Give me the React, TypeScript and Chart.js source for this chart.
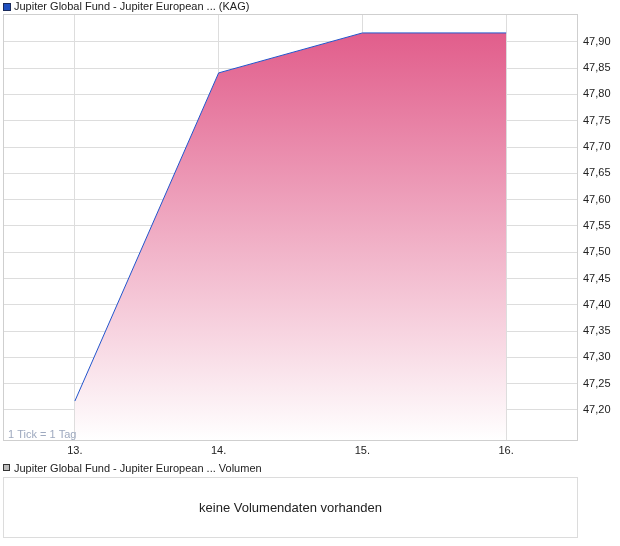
import React, { useEffect, useRef } from "react";
import { Chart, registerables } from "chart.js";

Chart.register(...registerables);

const categories = [13, 14, 15, 16];
const prices = [47.217, 47.841, 47.917, 47.917];
const yTicks = [47.2, 47.25, 47.3, 47.35, 47.4, 47.45, 47.5, 47.55, 47.6, 47.65, 47.7, 47.75, 47.8, 47.85, 47.9];
const seriesLabel = "Jupiter Global Fund - Jupiter European ... (KAG)";
const volumeLabel = "Jupiter Global Fund - Jupiter European ... Volumen";
const noVolumeText = "keine Volumendaten vorhanden";
const tickNote = "1 Tick = 1 Tag";

const FONT = "'Liberation Sans', Arial, sans-serif";

export default function App() {
  const ref = useRef<HTMLCanvasElement | null>(null);

  useEffect(() => {
    if (!ref.current) return;
    const overlay = {
      id: "overlay",
      beforeDatasetsDraw() {},
      afterDraw(chart: any) {
        const { ctx, chartArea } = chart;
        ctx.save();
        // plot border
        ctx.strokeStyle = "#cfcfcf";
        ctx.lineWidth = 1;
        ctx.strokeRect(
          Math.round(chartArea.left) + 0.5,
          Math.round(chartArea.top) + 0.5,
          Math.round(chartArea.right - chartArea.left) - 1,
          Math.round(chartArea.bottom - chartArea.top) - 1
        );
        // legend
        ctx.fillStyle = "#1f4fbf";
        ctx.fillRect(3, 3, 7, 7);
        ctx.strokeStyle = "#1a2a5a";
        ctx.strokeRect(3.5, 3.5, 7, 7);
        ctx.fillStyle = "#222";
        ctx.font = `11px ${FONT}`;
        ctx.textBaseline = "middle";
        ctx.textAlign = "left";
        ctx.fillText(seriesLabel, 14, 7);
        // tick note
        ctx.fillStyle = "#9ea9bf";
        ctx.fillText(tickNote, 8, chartArea.bottom - 6);
        ctx.restore();
      },
    };

    const chart = new Chart(ref.current, {
      type: "line",
      data: {
        datasets: [
          {
            label: seriesLabel,
            data: categories.map((c, i) => ({ x: c, y: prices[i] })),
            borderColor: "#2255cc",
            borderWidth: 1,
            pointRadius: 0,
            tension: 0,
            fill: "start",
            backgroundColor: (c: any) => {
              const ca = c.chart.chartArea;
              if (!ca) return "rgba(224,88,136,0.8)";
              const g = c.chart.ctx.createLinearGradient(0, ca.top, 0, ca.bottom);
              g.addColorStop(0, "rgb(224,86,134)");
              g.addColorStop(1, "rgb(255,255,255)");
              return g;
            },
          },
        ],
      },
      options: {
        animation: false,
        responsive: false,
        maintainAspectRatio: false,
        layout: { padding: { left: 3, top: 14, right: 0, bottom: 0 } },
        plugins: { legend: { display: false }, tooltip: { enabled: false } },
        scales: {
          x: {
            type: "linear",
            min: 12.5,
            max: 16.5,
            afterBuildTicks: (s: any) => {
              s.ticks = categories.map((v) => ({ value: v }));
            },
            afterFit: (s: any) => {
              s.height = 21;
            },
            grid: { color: "#dddddd", drawTicks: false },
            border: { display: false },
            ticks: {
              padding: 3,
              color: "#222",
              font: { family: FONT, size: 11 },
              callback: (v: any) => `${v}.`,
              maxRotation: 0,
            },
          },
          y: {
            type: "linear",
            position: "right",
            min: 47.141,
            max: 47.953,
            afterBuildTicks: (s: any) => {
              s.ticks = yTicks.map((v) => ({ value: v }));
            },
            afterFit: (s: any) => {
              s.width = 42;
            },
            grid: { color: "#dddddd", drawTicks: false },
            border: { display: false },
            ticks: {
              padding: 5,
              color: "#222",
              font: { family: FONT, size: 11 },
              callback: (v: any) => Number(v).toFixed(2).replace(".", ","),
            },
          },
        },
      },
      plugins: [overlay],
    } as any);
    return () => chart.destroy();
  }, []);

  return (
    <div style={{ position: "absolute", left: 0, top: 0, width: 620, height: 546, background: "#fff", fontFamily: FONT }}>
      <canvas ref={ref} width={620} height={462} style={{ display: "block", width: 620, height: 462 }} />
      <div style={{ position: "absolute", left: 3, top: 464, width: 7, height: 7, background: "#bdbdbd", border: "1px solid #333", boxSizing: "border-box" }} />
      <div style={{ position: "absolute", left: 14, top: 461, fontSize: 11, lineHeight: "14px", color: "#222", whiteSpace: "nowrap" }}>{volumeLabel}</div>
      <div
        style={{
          position: "absolute",
          left: 3,
          top: 477,
          width: 575,
          height: 61,
          border: "1px solid #dcdcdc",
          boxSizing: "border-box",
          display: "flex",
          alignItems: "center",
          justifyContent: "center",
          fontSize: 13,
          color: "#222",
        }}
      >
        {noVolumeText}
      </div>
    </div>
  );
}
